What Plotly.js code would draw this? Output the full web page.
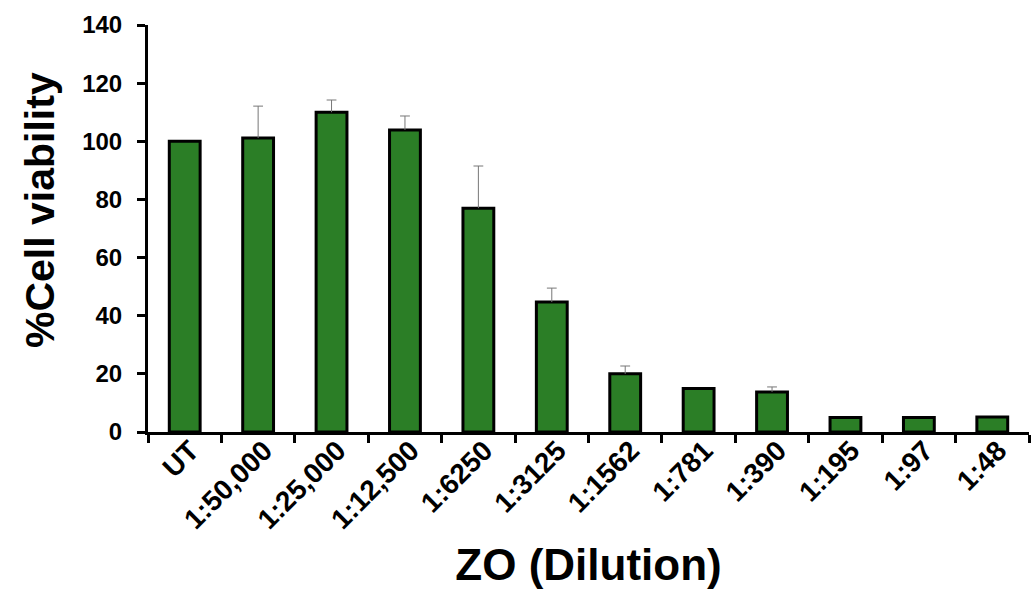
<!DOCTYPE html>
<html>
<head>
<meta charset="utf-8">
<script src="https://cdn.plot.ly/plotly-3.0.1.min.js"></script>
<style>html,body{margin:0;padding:0;background:#fff;}#chart{width:1035px;height:589px;}</style>
</head>
<body>
<div id="chart"></div>
<script>
const categories = ["UT", "1:50,000", "1:25,000", "1:12,500", "1:6250", "1:3125", "1:1562", "1:781", "1:390", "1:195", "1:97", "1:48"];
const viability = [100, 101.1, 110, 103.9, 77, 44.7, 20, 15, 13.8, 5, 5, 5.2];
const errorUp = [0, 11, 4.2, 4.8, 14.5, 4.8, 2.7, 0, 1.7, 0, 0, 0];

const fontFam = "Arial, 'Liberation Sans', sans-serif";

// error bars drawn as upward-only stems with a top cap
const stemX = [], stemY = [], capX = [], capY = [];
categories.forEach((c, i) => {
  if (errorUp[i] > 0) {
    stemX.push(c, c, null);
    stemY.push(viability[i], viability[i] + errorUp[i], null);
    capX.push(c);
    capY.push(viability[i] + errorUp[i]);
  }
});

const bars = {
  type: "bar",
  x: categories,
  y: viability,
  width: 0.42,
  marker: { color: "#2b7e26", line: { color: "#000", width: 3 } }
};
const stems = {
  type: "scatter",
  mode: "lines",
  x: stemX,
  y: stemY,
  line: { color: "#777", width: 1 },
  connectgaps: false
};
const caps = {
  type: "scatter",
  mode: "markers",
  x: capX,
  y: capY,
  marker: { symbol: "line-ew-open", size: 7, color: "#777", line: { color: "#777", width: 1 } }
};

const L = 148, R = 6, T = 25, B = 157, W = 1035, H = 589;
const plotW = W - L - R, plotH = H - T - B;

const layout = {
  width: W,
  height: H,
  margin: { l: L, r: R, t: T, b: B },
  paper_bgcolor: "#fff",
  plot_bgcolor: "#fff",
  showlegend: false,
  font: { family: fontFam, color: "#000" },
  xaxis: {
    type: "category",
    tickson: "boundaries",
    ticks: "outside",
    ticklen: 8,
    tickwidth: 3,
    tickcolor: "#000",
    showline: true,
    linecolor: "#000",
    linewidth: 3,
    showgrid: false,
    zeroline: false,
    tickangle: -45,
    ticklabelstandoff: -12,
    ticklabelshift: 6,
    automargin: false,
    tickfont: { family: fontFam, size: 28, weight: "bold", color: "#000" },
    title: { text: "ZO (Dilution)", font: { family: fontFam, size: 44, weight: "bold", color: "#000" }, standoff: 26 }
  },
  yaxis: {
    range: [0, 140],
    dtick: 20,
    ticks: "outside",
    ticklen: 8,
    tickwidth: 3,
    tickcolor: "#000",
    showline: true,
    linecolor: "#000",
    linewidth: 3,
    showgrid: false,
    zeroline: false,
    ticklabelstandoff: 10,
    automargin: false,
    tickfont: { family: fontFam, size: 24, weight: "bold", color: "#000" }
  },
  annotations: [{
    text: "%Cell viability",
    textangle: -90,
    xref: "paper", yref: "paper",
    x: (40 - L) / plotW,
    y: (T + plotH - 210) / plotH,
    xanchor: "center", yanchor: "middle",
    showarrow: false,
    font: { family: fontFam, size: 41, weight: "bold", color: "#000" }
  }]
};

Plotly.newPlot("chart", [bars, stems, caps], layout, { displayModeBar: false, staticPlot: true });
</script>
</body>
</html>
